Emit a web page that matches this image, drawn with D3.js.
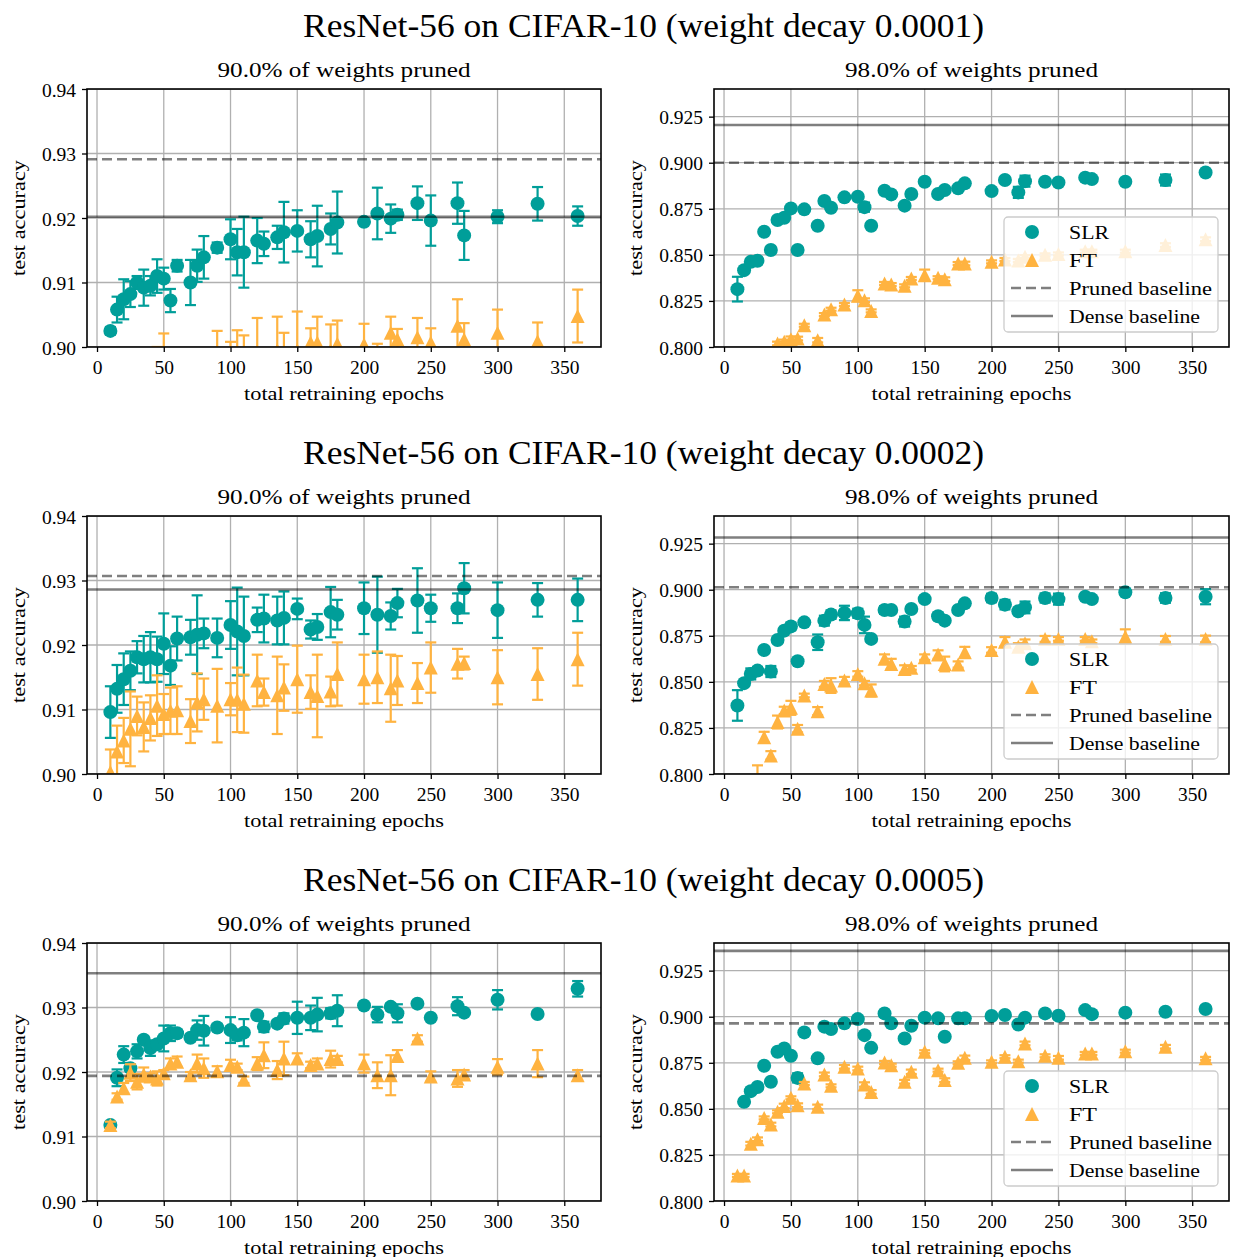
<!DOCTYPE html>
<html>
<head>
<meta charset="utf-8">
<script src="https://cdn.jsdelivr.net/npm/d3@7"></script>
<style>
    body { margin: 0; background: #fff; }
    text { font-family: "Liberation Serif", "Times New Roman", serif; fill: #000; }
</style>
</head>
<body>
<svg id="chart" width="1233" height="1257"></svg>
<script>
// ---- data ----
const epochs = [10, 15, 20, 25, 30, 35, 40, 45, 50, 55, 60, 70, 75, 80, 90, 100, 105, 110, 120, 125,
                135, 140, 150, 160, 165, 175, 180, 200, 210, 220, 225, 240, 250, 270, 275, 300, 330, 360];

const decays = ["0.0001", "0.0002", "0.0005"];
const sparsities = ["90.0%", "98.0%"];

// weight decay 0.0001, 90%
const slrAcc_1_90 = [0.9025,0.9058,0.9074,0.9082,0.9100,0.9092,0.9095,0.9110,0.9106,0.9072,
    0.9126,0.9100,0.9126,0.9139,0.9154,0.9167,0.9147,0.9147,0.9165,0.9160,
    0.9170,0.9178,0.9180,0.9167,0.9172,0.9183,0.9193,0.9194,0.9207,0.9199,
    0.9205,0.9223,0.9196,0.9223,0.9173,0.9202,0.9222,0.9203];
const slrErr_1_90 = [0.0006,0.0020,0.0031,0.0020,0.0010,0.0028,0.0015,0.0026,0.0017,0.0018,
    0.0009,0.0035,0.0025,0.0033,0.0008,0.0031,0.0036,0.0055,0.0035,0.0019,
    0.0018,0.0047,0.0032,0.0028,0.0047,0.0024,0.0048,0.0003,0.0040,0.0022,
    0.0008,0.0026,0.0039,0.0032,0.0038,0.0010,0.0026,0.0015];
const ftAcc_1_90 = [0.8850,0.8880,0.8900,0.8910,0.8920,0.8930,0.8940,0.8960,0.8975,0.8950,
    0.8950,0.8960,0.8960,0.8970,0.8970,0.8970,0.8980,0.8975,0.8990,0.8970,
    0.8995,0.8990,0.8995,0.9007,0.9007,0.8995,0.9005,0.9004,0.8985,0.9022,
    0.9012,0.9015,0.9007,0.9033,0.9012,0.9022,0.9009,0.9048];
const ftErr_1_90 = [0.0020,0.0020,0.0020,0.0020,0.0020,0.0020,0.0020,0.0040,0.0046,0.0030,
    0.0030,0.0030,0.0030,0.0020,0.0055,0.0038,0.0046,0.0043,0.0055,0.0020,
    0.0052,0.0032,0.0060,0.0022,0.0040,0.0040,0.0036,0.0032,0.0020,0.0025,
    0.0016,0.0030,0.0022,0.0041,0.0025,0.0036,0.0029,0.0041];

// weight decay 0.0001, 98%
const slrAcc_1_98 = [0.8314,0.8417,0.8462,0.8468,0.8625,0.8526,0.8689,0.8701,0.8752,0.8526,
    0.8747,0.8658,0.8792,0.8756,0.8812,0.8815,0.8759,0.8658,0.8848,0.8828,
    0.8767,0.8830,0.8897,0.8830,0.8852,0.8861,0.8888,0.8846,0.8906,0.8839,
    0.8900,0.8897,0.8893,0.8919,0.8911,0.8897,0.8906,0.8947];
const slrErr_1_98 = [0.0067,0.0008,0.0006,0.0006,0.0005,0.0006,0.0005,0.0006,0.0005,0.0006,
    0.0005,0.0005,0.0005,0.0006,0.0005,0.0006,0.0025,0.0005,0.0006,0.0005,
    0.0008,0.0005,0.0005,0.0006,0.0008,0.0005,0.0006,0.0005,0.0006,0.0030,
    0.0030,0.0006,0.0005,0.0006,0.0005,0.0006,0.0030,0.0005];
const ftAcc_1_98 = [0.7700,0.7780,0.7840,0.7880,0.7920,0.7950,0.8019,0.8028,0.8042,0.8046,
    0.8118,0.8037,0.8176,0.8205,0.8231,0.8278,0.8254,0.8196,0.8345,0.8339,
    0.8332,0.8372,0.8390,0.8376,0.8368,0.8453,0.8453,0.8462,0.8475,0.8470,
    0.8490,0.8500,0.8505,0.8520,0.8520,0.8520,0.8553,0.8585];
const ftErr_1_98 = [0.0010,0.0010,0.0010,0.0010,0.0010,0.0010,0.0010,0.0012,0.0015,0.0010,
    0.0008,0.0012,0.0008,0.0008,0.0008,0.0030,0.0010,0.0008,0.0008,0.0008,
    0.0008,0.0008,0.0030,0.0008,0.0010,0.0008,0.0010,0.0008,0.0008,0.0008,
    0.0008,0.0008,0.0008,0.0008,0.0008,0.0008,0.0010,0.0010];

// weight decay 0.0002, 90%
const slrAcc_2_90 = [0.9096,0.9132,0.9147,0.9160,0.9181,0.9178,0.9181,0.9178,0.9202,0.9168,
    0.9210,0.9212,0.9216,0.9218,0.9211,0.9231,0.9221,0.9214,0.9239,0.9241,
    0.9238,0.9242,0.9256,0.9224,0.9228,0.9251,0.9247,0.9257,0.9247,0.9245,
    0.9265,0.9269,0.9257,0.9257,0.9288,0.9254,0.9270,0.9270];
const slrErr_2_90 = [0.0040,0.0037,0.0040,0.0030,0.0025,0.0036,0.0039,0.0035,0.0047,0.0030,
    0.0034,0.0027,0.0061,0.0023,0.0030,0.0037,0.0068,0.0061,0.0019,0.0037,
    0.0037,0.0041,0.0016,0.0014,0.0020,0.0039,0.0023,0.0040,0.0059,0.0021,
    0.0022,0.0050,0.0021,0.0023,0.0039,0.0043,0.0026,0.0033];
const ftAcc_2_90 = [0.9003,0.9035,0.9052,0.9070,0.9090,0.9073,0.9087,0.9106,0.9093,0.9098,
    0.9099,0.9082,0.9111,0.9116,0.9106,0.9116,0.9115,0.9109,0.9145,0.9127,
    0.9122,0.9134,0.9147,0.9127,0.9121,0.9128,0.9155,0.9147,0.9150,0.9133,
    0.9145,0.9141,0.9165,0.9171,0.9172,0.9150,0.9155,0.9178];
const ftErr_2_90 = [0.0035,0.0040,0.0035,0.0058,0.0030,0.0038,0.0035,0.0047,0.0031,0.0036,
    0.0037,0.0034,0.0045,0.0032,0.0057,0.0025,0.0050,0.0045,0.0040,0.0021,
    0.0060,0.0036,0.0052,0.0026,0.0064,0.0023,0.0049,0.0038,0.0040,0.0052,
    0.0038,0.0031,0.0039,0.0023,0.0010,0.0042,0.0040,0.0041];

// weight decay 0.0002, 98%
const slrAcc_2_98 = [0.8372,0.8493,0.8543,0.8561,0.8673,0.8556,0.8727,0.8778,0.8801,0.8612,
    0.8823,0.8715,0.8832,0.8865,0.8874,0.8872,0.8809,0.8733,0.8890,0.8890,
    0.8827,0.8895,0.8949,0.8856,0.8832,0.8890,0.8926,0.8955,0.8919,0.8883,
    0.8904,0.8955,0.8949,0.8962,0.8949,0.8986,0.8955,0.8962];
const slrErr_2_98 = [0.0083,0.0010,0.0030,0.0020,0.0010,0.0030,0.0010,0.0010,0.0020,0.0015,
    0.0010,0.0042,0.0027,0.0023,0.0039,0.0025,0.0045,0.0010,0.0021,0.0015,
    0.0027,0.0010,0.0017,0.0019,0.0010,0.0010,0.0010,0.0023,0.0026,0.0016,
    0.0032,0.0025,0.0030,0.0010,0.0010,0.0015,0.0026,0.0041];
const ftAcc_2_98 = [0.7850,0.7920,0.7950,0.7970,0.8200,0.8101,0.8282,0.8345,0.8359,0.8246,
    0.8426,0.8341,0.8489,0.8480,0.8507,0.8543,0.8493,0.8453,0.8625,0.8597,
    0.8570,0.8576,0.8634,0.8648,0.8597,0.8594,0.8661,0.8673,0.8718,0.8690,
    0.8710,0.8733,0.8733,0.8733,0.8720,0.8745,0.8733,0.8733];
const ftErr_2_98 = [0.0020,0.0020,0.0020,0.0077,0.0029,0.0023,0.0035,0.0020,0.0038,0.0020,
    0.0010,0.0022,0.0016,0.0040,0.0020,0.0015,0.0012,0.0033,0.0024,0.0028,
    0.0020,0.0010,0.0015,0.0023,0.0040,0.0017,0.0029,0.0015,0.0025,0.0020,
    0.0020,0.0016,0.0010,0.0010,0.0010,0.0040,0.0016,0.0018];

// weight decay 0.0005, 90%
const slrAcc_5_90 = [0.9118,0.9191,0.9227,0.9206,0.9232,0.9250,0.9237,0.9243,0.9252,0.9260,
    0.9260,0.9253,0.9265,0.9264,0.9269,0.9265,0.9257,0.9261,0.9288,0.9270,
    0.9275,0.9283,0.9284,0.9284,0.9289,0.9291,0.9295,0.9303,0.9289,0.9301,
    0.9291,0.9306,0.9284,0.9302,0.9292,0.9312,0.9290,0.9329];
const slrErr_5_90 = [0.0003,0.0013,0.0013,0.0005,0.0011,0.0005,0.0012,0.0005,0.0020,0.0012,
    0.0005,0.0005,0.0015,0.0023,0.0005,0.0020,0.0008,0.0021,0.0005,0.0008,
    0.0005,0.0008,0.0025,0.0019,0.0026,0.0008,0.0024,0.0003,0.0012,0.0005,
    0.0014,0.0003,0.0003,0.0014,0.0003,0.0015,0.0003,0.0012];
const ftAcc_5_90 = [0.9118,0.9162,0.9175,0.9199,0.9185,0.9196,0.9193,0.9190,0.9198,0.9213,
    0.9216,0.9195,0.9213,0.9206,0.9201,0.9211,0.9208,0.9188,0.9213,0.9226,
    0.9203,0.9221,0.9221,0.9211,0.9213,0.9220,0.9220,0.9213,0.9195,0.9195,
    0.9225,0.9252,0.9193,0.9190,0.9196,0.9208,0.9213,0.9195];
const ftErr_5_90 = [0.0005,0.0005,0.0008,0.0013,0.0012,0.0011,0.0005,0.0011,0.0005,0.0008,
    0.0008,0.0005,0.0014,0.0015,0.0008,0.0008,0.0005,0.0005,0.0010,0.0020,
    0.0014,0.0026,0.0008,0.0005,0.0008,0.0013,0.0005,0.0014,0.0020,0.0031,
    0.0009,0.0005,0.0008,0.0013,0.0007,0.0012,0.0021,0.0008];

// weight decay 0.0005, 98%  (first SLR point sits below the visible range)
const slrAcc_5_98 = [0.7950,0.8538,0.8596,0.8619,0.8734,0.8647,0.8810,0.8828,0.8788,0.8668,
    0.8915,0.8774,0.8946,0.8933,0.8964,0.8987,0.8900,0.8831,0.9018,0.8964,
    0.8882,0.8951,0.8995,0.8991,0.8891,0.8991,0.8991,0.9004,0.9009,0.8958,
    0.8995,0.9018,0.9005,0.9036,0.9014,0.9022,0.9027,0.9042];
const slrErr_5_98 = [0.0005,0.0005,0.0015,0.0008,0.0005,0.0005,0.0005,0.0005,0.0005,0.0025,
    0.0005,0.0005,0.0005,0.0005,0.0005,0.0005,0.0005,0.0005,0.0005,0.0005,
    0.0005,0.0005,0.0005,0.0005,0.0005,0.0008,0.0005,0.0005,0.0005,0.0008,
    0.0005,0.0005,0.0005,0.0005,0.0005,0.0005,0.0014,0.0005];
const ftAcc_5_98 = [0.8139,0.8139,0.8311,0.8335,0.8451,0.8415,0.8484,0.8516,0.8560,0.8520,
    0.8638,0.8511,0.8687,0.8625,0.8728,0.8719,0.8632,0.8592,0.8752,0.8737,
    0.8647,0.8701,0.8810,0.8710,0.8656,0.8750,0.8777,0.8755,0.8783,0.8759,
    0.8855,0.8788,0.8777,0.8801,0.8801,0.8813,0.8837,0.8774];
const ftErr_5_98 = [0.0008,0.0008,0.0010,0.0010,0.0008,0.0010,0.0008,0.0012,0.0008,0.0010,
    0.0008,0.0012,0.0010,0.0008,0.0010,0.0010,0.0012,0.0010,0.0008,0.0008,
    0.0010,0.0012,0.0008,0.0008,0.0010,0.0008,0.0012,0.0008,0.0008,0.0008,
    0.0010,0.0008,0.0010,0.0008,0.0008,0.0008,0.0010,0.0008];

// baselines, in panel order (row by row, left then right)
const prunedBaseline = [0.9291, 0.9000, 0.9307, 0.9013, 0.9194, 0.8964];
const denseBaseline = [0.9202, 0.9205, 0.9286, 0.9283, 0.9353, 0.9357];

const yTicks90 = [0.90, 0.91, 0.92, 0.93, 0.94];
const yTicks98 = [0.800, 0.825, 0.850, 0.875, 0.900, 0.925];
const xTicks = [0, 50, 100, 150, 200, 250, 300, 350];

const seriesTable = [
    [slrAcc_1_90, slrErr_1_90, ftAcc_1_90, ftErr_1_90],
    [slrAcc_1_98, slrErr_1_98, ftAcc_1_98, ftErr_1_98],
    [slrAcc_2_90, slrErr_2_90, ftAcc_2_90, ftErr_2_90],
    [slrAcc_2_98, slrErr_2_98, ftAcc_2_98, ftErr_2_98],
    [slrAcc_5_90, slrErr_5_90, ftAcc_5_90, ftErr_5_90],
    [slrAcc_5_98, slrErr_5_98, ftAcc_5_98, ftErr_5_98]
];

// ---- style ----
const TEAL = "#009e99";
const ORANGE = "#ffb340";
const GRID = "#b0b0b0";
const SERIF = "'Liberation Serif', 'Times New Roman', serif";

const rowTops = [89, 516, 943];
const colLefts = [87, 714];
const colWidths = [514, 515];
const panelHeight = 258;

const circleSize = Math.PI * 7 * 7;
const triSize = 14 * 14;

// matplotlib-like '^' marker
const triangleUp = {
    draw: function (context, size) {
        let r = Math.sqrt(size) / 2;
        context.moveTo(0, -r);
        context.lineTo(r, r);
        context.lineTo(-r, r);
        context.closePath();
    }
};

const svg = d3.select("#chart");

function addText(parent, str, x, y, size, width, anchor) {
    let t = parent.append("text")
        .attr("x", x)
        .attr("y", y)
        .attr("font-size", size)
        .attr("text-anchor", anchor || "middle")
        .text(str);
    if (width) {
        t.attr("textLength", width).attr("lengthAdjust", "spacingAndGlyphs");
    }
    return t;
}

function drawPanel(idx) {
    let row = Math.floor(idx / 2);
    let col = idx % 2;
    let left = colLefts[col];
    let top = rowTops[row];
    let width = colWidths[col];
    let height = panelHeight;
    let is90 = col === 0;

    let [slr, slrErr, ft, ftErr] = seriesTable[idx];

    let x = d3.scaleLinear().domain([-7.5, 377.5]).range([0, width]);
    let y = d3.scaleLinear().domain(is90 ? [0.90, 0.94] : [0.80, 0.94]).range([height, 0]);
    let yTicks = is90 ? yTicks90 : yTicks98;

    let g = svg.append("g").attr("transform", "translate(" + left + "," + top + ")");

    let clipId = "clip" + idx;
    g.append("clipPath").attr("id", clipId)
        .append("rect").attr("width", width).attr("height", height);

    // grid
    let grid = g.append("g").attr("clip-path", "url(#" + clipId + ")");
    grid.selectAll(".gx").data(xTicks).enter().append("line")
        .attr("x1", d => x(d)).attr("x2", d => x(d))
        .attr("y1", 0).attr("y2", height)
        .style("stroke", GRID).style("stroke-width", 1.3);
    grid.selectAll(".gy").data(yTicks).enter().append("line")
        .attr("x1", 0).attr("x2", width)
        .attr("y1", d => y(d)).attr("y2", d => y(d))
        .style("stroke", GRID).style("stroke-width", 1.3);

    let plot = g.append("g").attr("clip-path", "url(#" + clipId + ")");

    function drawSeries(means, errs, color, symbolType, size) {
        let pts = epochs.map((e, i) => ({ x: e, m: means[i], e: errs[i] }));
        let bars = plot.append("g");
        bars.selectAll("line.v").data(pts).enter().append("line")
            .attr("x1", d => x(d.x)).attr("x2", d => x(d.x))
            .attr("y1", d => y(d.m - d.e)).attr("y2", d => y(d.m + d.e))
            .style("stroke", color).style("stroke-width", 2.2);
        [-1, 1].forEach(function (s) {
            bars.selectAll("line.c" + s).data(pts).enter().append("line")
                .attr("x1", d => x(d.x) - 5.5).attr("x2", d => x(d.x) + 5.5)
                .attr("y1", d => y(d.m + s * d.e)).attr("y2", d => y(d.m + s * d.e))
                .style("stroke", color).style("stroke-width", 2.2);
        });
        plot.append("g").selectAll("path").data(pts).enter().append("path")
            .attr("transform", d => "translate(" + x(d.x) + "," + y(d.m) + ")")
            .attr("d", d3.symbol().type(symbolType).size(size))
            .style("fill", color);
    }

    drawSeries(slr, slrErr, TEAL, d3.symbolCircle, circleSize);
    drawSeries(ft, ftErr, ORANGE, triangleUp, triSize);

    // baselines
    plot.append("line")
        .attr("x1", 0).attr("x2", width)
        .attr("y1", y(prunedBaseline[idx])).attr("y2", y(prunedBaseline[idx]))
        .style("stroke", "#000").style("stroke-opacity", 0.5)
        .style("stroke-width", 2.6).style("stroke-dasharray", "10,5");
    plot.append("line")
        .attr("x1", 0).attr("x2", width)
        .attr("y1", y(denseBaseline[idx])).attr("y2", y(denseBaseline[idx]))
        .style("stroke", "#000").style("stroke-opacity", 0.5)
        .style("stroke-width", 2.6);

    // axes
    let xAxis = g.append("g").attr("transform", "translate(0," + height + ")")
        .call(d3.axisBottom(x).tickValues(xTicks).tickFormat(d3.format("d")).tickSize(5));
    xAxis.selectAll("text").attr("dy", null).attr("y", 27);

    let yAxis = g.append("g")
        .call(d3.axisLeft(y).tickValues(yTicks).tickFormat(d3.format(is90 ? ".2f" : ".3f")).tickSize(5));
    yAxis.selectAll("text").attr("dy", "0.36em").attr("x", -11);

    [xAxis, yAxis].forEach(function (a) {
        a.attr("font-family", SERIF).attr("font-size", 19.5);
        a.select(".domain").remove();
        a.selectAll(".tick line").style("stroke", "#000").style("stroke-width", 1.3);
        a.selectAll("text").style("font-family", SERIF).style("font-size", "19.5px").style("fill", "#000");
    });

    g.append("rect")
        .attr("width", width).attr("height", height)
        .style("fill", "none").style("stroke", "#000").style("stroke-width", 1.6);

    // labels
    addText(g, sparsities[col] + " of weights pruned", width / 2, -12, 21.5, 253);
    addText(g, "total retraining epochs", width / 2, height + 53, 19.5, 200);
    addText(g, "test accuracy", 0, 0, 19.5, 116)
        .attr("transform", "translate(" + (is90 ? -62 : -72) + "," + (height / 2) + ") rotate(-90)");

    // legend (right column only)
    if (!is90) {
        let lw = 214, lh = 115;
        let lg = g.append("g").attr("transform", "translate(" + (width - 11 - lw) + "," + (height - 15 - lh) + ")");
        lg.append("rect")
            .attr("width", lw).attr("height", lh).attr("rx", 4)
            .style("fill", "#fff").style("fill-opacity", 0.8)
            .style("stroke", "#cccccc").style("stroke-width", 1.3);
        let entries = [
            { label: "SLR", w: 40, kind: "circle" },
            { label: "FT", w: 28, kind: "tri" },
            { label: "Pruned baseline", w: 143, kind: "dash" },
            { label: "Dense baseline", w: 131, kind: "solid" }
        ];
        entries.forEach(function (en, i) {
            let cy = 15 + i * 28;
            if (en.kind === "circle") {
                lg.append("path").attr("transform", "translate(28," + cy + ")")
                    .attr("d", d3.symbol().type(d3.symbolCircle).size(circleSize)())
                    .style("fill", TEAL);
            } else if (en.kind === "tri") {
                lg.append("path").attr("transform", "translate(28," + cy + ")")
                    .attr("d", d3.symbol().type(triangleUp).size(triSize)())
                    .style("fill", ORANGE);
            } else {
                lg.append("line")
                    .attr("x1", 7).attr("x2", 49).attr("y1", cy).attr("y2", cy)
                    .style("stroke", "#000").style("stroke-opacity", 0.5)
                    .style("stroke-width", 2.6)
                    .style("stroke-dasharray", en.kind === "dash" ? "10,5" : null);
            }
            addText(lg, en.label, 65, cy + 6.5, 19.5, en.w, "start");
        });
    }
}

// row titles
decays.forEach(function (d, i) {
    addText(svg, "ResNet-56 on CIFAR-10 (weight decay " + d + ")", 643.5, 37 + i * 427, 34, 681);
});

for (let i = 0; i < 6; i++) {
    drawPanel(i);
}
</script>
</body>
</html>
